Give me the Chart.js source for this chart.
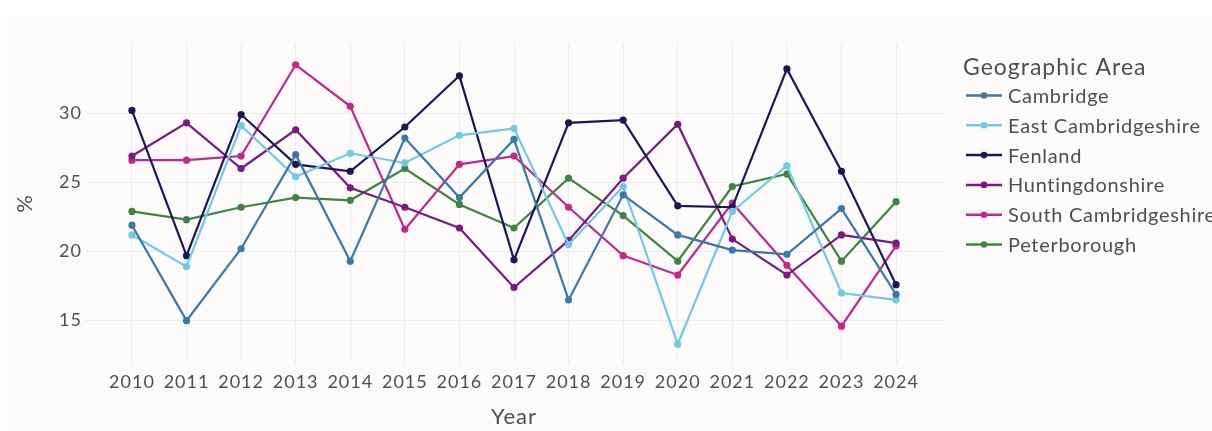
<!DOCTYPE html>
<html>
<head>
<meta charset="utf-8">
<script src="https://cdn.jsdelivr.net/npm/chart.js@4.4.1/dist/chart.umd.min.js"></script>
<style>
  html, body { margin: 0; padding: 0; background: #fff; }
  #wrap { width: 1212px; height: 431px; }
</style>
</head>
<body>
<div id="wrap"><canvas id="areaChart" width="1212" height="431"></canvas></div>
<script>
const years = [2010, 2011, 2012, 2013, 2014, 2015, 2016, 2017, 2018, 2019, 2020, 2021, 2022, 2023, 2024];
const yTicks = [15, 20, 25, 30];

const cambridge     = [21.9, 15.0, 20.2, 27.0, 19.3, 28.2, 23.9, 28.1, 16.5, 24.1, 21.2, 20.1, 19.8, 23.1, 16.9];
const eastCambs     = [21.2, 18.9, 29.1, 25.4, 27.1, 26.4, 28.4, 28.9, 20.5, 24.7, 13.3, 22.9, 26.2, 17.0, 16.5];
const fenland       = [30.2, 19.7, 29.9, 26.3, 25.8, 29.0, 32.7, 19.4, 29.3, 29.5, 23.3, 23.2, 33.2, 25.8, 17.6];
const huntingdon    = [26.9, 29.3, 26.0, 28.8, 24.6, 23.2, 21.7, 17.4, 20.8, 25.3, 29.2, 20.9, 18.3, 21.2, 20.6];
const southCambs    = [26.6, 26.6, 26.9, 33.5, 30.5, 21.6, 26.3, 26.9, 23.2, 19.7, 18.3, 23.5, 19.0, 14.6, 20.4];
const peterborough  = [22.9, 22.3, 23.2, 23.9, 23.7, 26.0, 23.4, 21.7, 25.3, 22.6, 19.3, 24.7, 25.6, 19.3, 23.6];

const areaNames = ['Cambridge', 'East Cambridgeshire', 'Fenland', 'Huntingdonshire', 'South Cambridgeshire', 'Peterborough'];
const areaValues = [cambridge, eastCambs, fenland, huntingdon, southCambs, peterborough];
const areaColours = ['#3b79a9', '#6dcbe4', '#1d1757', '#7a1a84', '#c6268c', '#3e863f'];

const fontName = 'Lato, "Open Sans", sans-serif';
const textColour = '#4f4f4f';
const gridColour = '#ecedec';

// background panel behind everything, also widen the text a little
const panelBg = {
    id: 'panelBg',
    beforeDraw(chart) {
        const c = chart.ctx;
        c.save();
        c.fillStyle = '#ffffff';
        c.fillRect(0, 0, chart.width, chart.height);
        c.fillStyle = '#fcfbfa';
        c.fillRect(7, 15, chart.width - 7, chart.height - 15);
        c.restore();
        c.letterSpacing = '1px';
    }
};

// legend drawn at the right, line + dot swatches
const sideLegend = {
    id: 'sideLegend',
    afterDraw(chart) {
        const c = chart.ctx;
        c.save();
        c.fillStyle = textColour;
        c.textBaseline = 'middle';
        c.textAlign = 'left';
        c.letterSpacing = '1px';
        c.font = '23px ' + fontName;
        c.fillText('Geographic Area', 963, 68);
        c.font = '20px ' + fontName;
        c.letterSpacing = '0.7px';
        chart.data.datasets.forEach((ds, i) => {
            const y = 95.5 + i * 29.8;
            c.strokeStyle = ds.borderColor;
            c.lineWidth = 2.5;
            c.beginPath();
            c.moveTo(966, y);
            c.lineTo(1002, y);
            c.stroke();
            c.fillStyle = ds.borderColor;
            c.beginPath();
            c.arc(984, y, 3.3, 0, Math.PI * 2);
            c.fill();
            c.fillStyle = textColour;
            c.fillText(ds.label, 1008, y + 1);
        });
        c.restore();
    }
};

const ctx = document.getElementById('areaChart').getContext('2d');
const areaChart = new Chart(ctx, {
    type: 'line',
    data: {
        datasets: areaNames.map((name, i) => ({
            label: name,
            data: years.map((yr, j) => ({ x: yr, y: areaValues[i][j] })),
            borderColor: areaColours[i],
            backgroundColor: areaColours[i],
            pointBackgroundColor: areaColours[i],
            pointBorderWidth: 0,
            pointRadius: 3.6,
            borderWidth: 2.2,
            tension: 0,
            fill: false
        }))
    },
    options: {
        responsive: false,
        animation: false,
        devicePixelRatio: 1,
        layout: { padding: { top: 44, right: 269, left: 0, bottom: 0 } },
        plugins: {
            legend: { display: false },
            tooltip: { enabled: false }
        },
        scales: {
            x: {
                type: 'linear',
                min: 2009.14,
                max: 2024.86,
                afterBuildTicks: (scale) => { scale.ticks = years.map(v => ({ value: v })); },
                afterFit: (scale) => { scale.height = 68; },
                grid: { color: gridColour, lineWidth: 1, drawTicks: false },
                border: { display: false },
                ticks: {
                    color: textColour,
                    font: { family: fontName, size: 18 },
                    padding: 8,
                    maxRotation: 0,
                    autoSkip: false,
                    callback: (v) => String(v)
                },
                title: {
                    display: true,
                    text: 'Year',
                    color: textColour,
                    font: { family: fontName, size: 22 },
                    padding: { top: 0, bottom: 1 }
                }
            },
            y: {
                min: 11.94,
                max: 35.0,
                afterBuildTicks: (scale) => { scale.ticks = yTicks.map(v => ({ value: v })); },
                afterFit: (scale) => { scale.width = 85; },
                grid: { color: gridColour, lineWidth: 1, drawTicks: false },
                border: { display: false },
                ticks: {
                    color: textColour,
                    font: { family: fontName, size: 18 },
                    padding: 3
                },
                title: {
                    display: true,
                    text: '%',
                    color: textColour,
                    font: { family: fontName, size: 22 },
                    padding: { top: 12, bottom: 0 }
                }
            }
        }
    },
    plugins: [panelBg, sideLegend]
});
</script>
</body>
</html>
